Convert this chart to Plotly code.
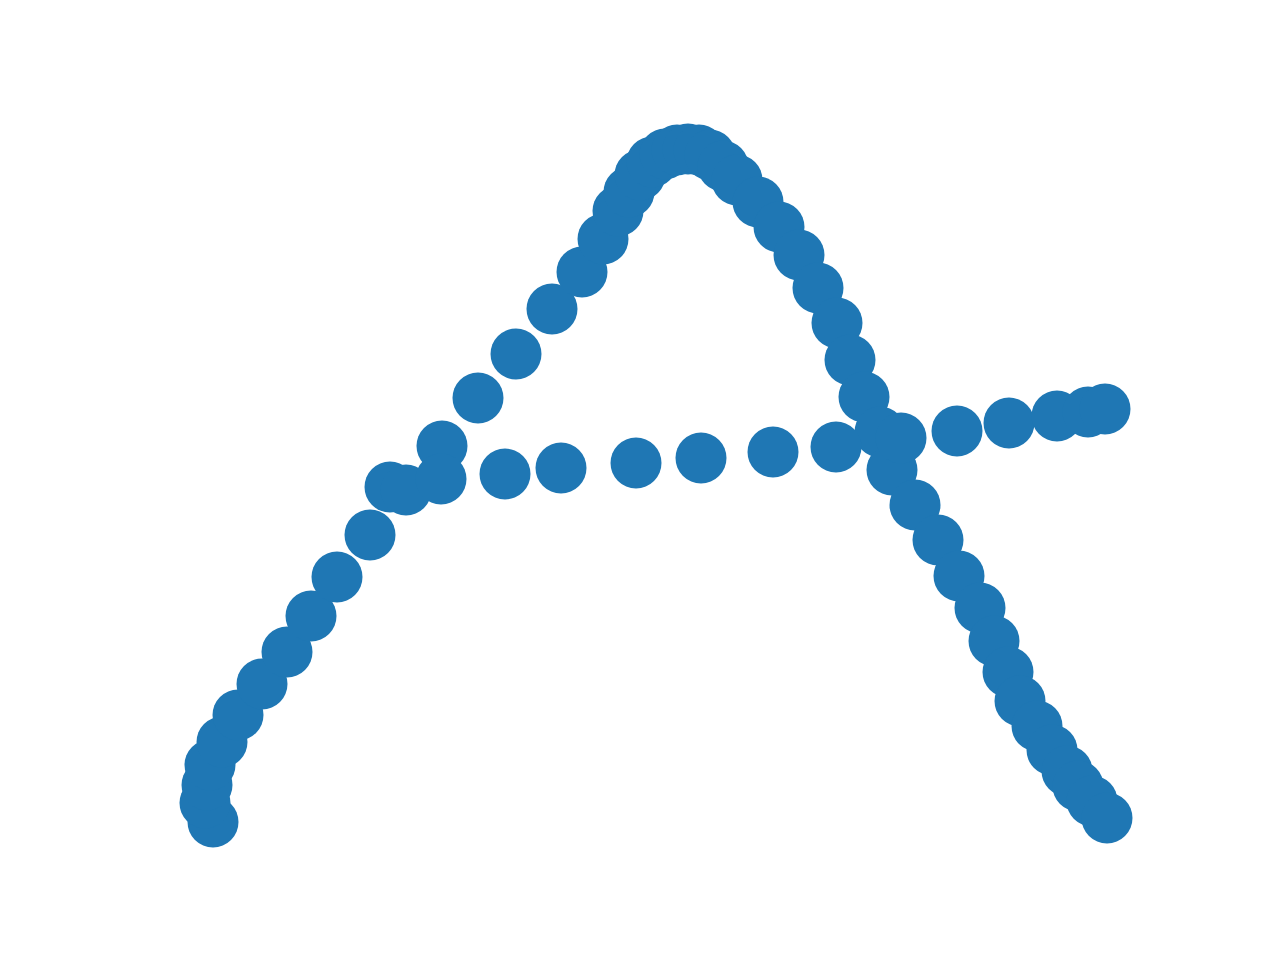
import plotly.graph_objects as go

# Arc-shaped series (arbitrary units)
arc_x = [2.13, 2.05, 2.07, 2.10, 2.22, 2.38, 2.62, 2.87, 3.11, 3.37, 3.70,
         4.42, 4.78, 5.16, 5.52, 5.82, 6.03, 6.18, 6.29, 6.40, 6.52, 6.65,
         6.77, 6.88, 6.99, 7.10, 7.23, 7.37, 7.58, 7.79, 7.99, 8.18, 8.37,
         8.50, 8.64, 8.80, 8.92, 9.15, 9.38, 9.59, 9.80, 9.94, 10.08, 10.20,
         10.37, 10.52, 10.67, 10.78, 10.92, 11.07]
arc_y = [1.38, 1.57, 1.75, 1.95, 2.18, 2.45, 2.76, 3.08, 3.44, 3.83, 4.25,
         5.14, 5.62, 6.06, 6.51, 6.88, 7.21, 7.49, 7.68, 7.85, 7.98, 8.06,
         8.10, 8.11, 8.10, 8.05, 7.94, 7.80, 7.58, 7.33, 7.05, 6.72, 6.37,
         6.00, 5.63, 5.28, 4.90, 4.55, 4.20, 3.84, 3.52, 3.19, 2.88, 2.59,
         2.34, 2.10, 1.89, 1.74, 1.59, 1.42]

# Nearly flat series
flat_x = [3.90, 4.06, 4.41, 5.05, 5.61, 6.36, 7.01, 7.73, 8.36, 9.01, 9.57,
          10.09, 10.57, 10.88, 11.05]
flat_y = [4.73, 4.70, 4.81, 4.86, 4.92, 4.97, 5.02, 5.08, 5.13, 5.22, 5.29,
          5.37, 5.44, 5.48, 5.51]

x_range = [1.60, 11.52]
y_range = [1.06, 8.45]

COLOR = "#1f77b4"

fig = go.Figure()
for xs, ys in [(arc_x, arc_y), (flat_x, flat_y)]:
    fig.add_trace(go.Scatter(
        x=xs, y=ys, mode="markers",
        marker=dict(color=COLOR, size=51, line=dict(width=0), opacity=1),
        cliponaxis=False, showlegend=False, hoverinfo="skip",
    ))

fig.update_layout(
    width=1280, height=960,
    margin=dict(l=160, r=128, t=115, b=106),
    paper_bgcolor="white", plot_bgcolor="white",
    xaxis=dict(range=x_range, visible=False, showgrid=False, zeroline=False),
    yaxis=dict(range=y_range, visible=False, showgrid=False, zeroline=False),
)

fig.write_html("out.html")
